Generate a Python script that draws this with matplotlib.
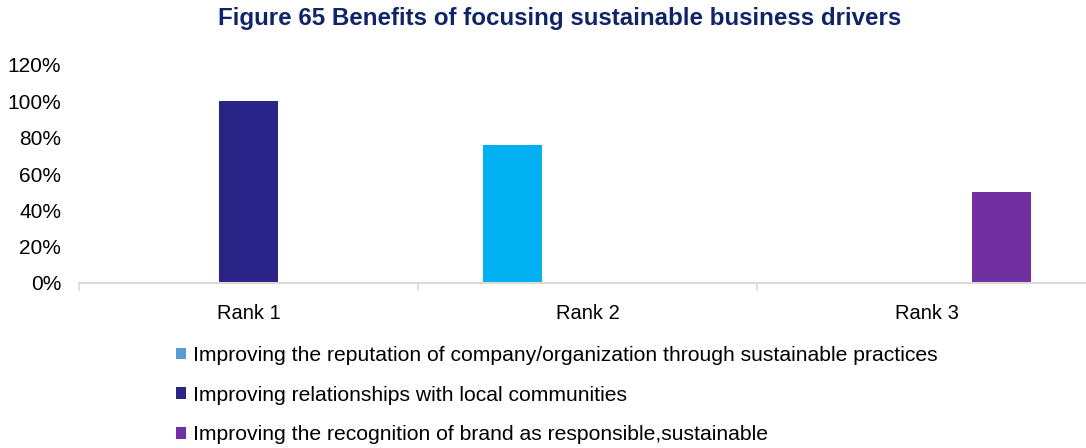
import matplotlib.pyplot as plt
from matplotlib.patches import Patch
import numpy as np

plt.rcParams['font.family'] = ['Liberation Sans', 'DejaVu Sans']

# Data
ranks = ['Rank 1', 'Rank 2', 'Rank 3']
series_names = [
    'Improving the reputation of company/organization through sustainable practices',
    'Improving relationships with local communities',
    'Improving the recognition of brand as responsible,sustainable',
]
reputation = [0, 76, 0]
relationships = [100, 0, 0]
recognition = [0, 0, 50]

bar_colors = ['#00B0F0', '#2A2489', '#7030A0']
legend_colors = ['#5B9BD5', '#2A2489', '#7030A0']

fig = plt.figure(figsize=(10.86, 4.48), dpi=100)
ax = fig.add_axes([79.3 / 1086, 165 / 448, 1017 / 1086, 218 / 448])

x = np.arange(len(ranks))
offset = 0.221
width = 0.174
for i, vals in enumerate([reputation, relationships, recognition]):
    ax.bar(x + (i - 1) * offset, vals, width=width, color=bar_colors[i], zorder=2)

ax.set_xlim(-0.5, 2.5)
ax.set_ylim(0, 120)
ax.set_yticks(range(0, 121, 20))
ax.set_yticklabels([f'{v}%' for v in range(0, 121, 20)])
ax.tick_params(axis='y', length=0, pad=13, labelsize=15)

# category labels between boundary tick marks
ax.set_xticks([-0.5, 0.5, 1.5, 2.5])
ax.set_xticklabels([])
ax.set_xticks(x, minor=True)
ax.set_xticklabels(ranks, minor=True)
ax.tick_params(axis='x', which='major', direction='out', length=6, width=1.2, color='#D9D9D9')
ax.tick_params(axis='x', which='minor', length=0, pad=15, labelsize=14.5)

for side in ['top', 'right', 'left']:
    ax.spines[side].set_visible(False)
ax.spines['bottom'].set_color('#D9D9D9')
ax.spines['bottom'].set_linewidth(1.5)

fig.text(560 / 1086, 1 - 25 / 448, 'Figure 65 Benefits of focusing sustainable business drivers',
         ha='center', va='baseline', fontsize=17.4, fontweight='bold', color='#10246A')

handles = [Patch(facecolor=c, edgecolor='none') for c in legend_colors]
fig.legend(handles, series_names, loc='upper left', bbox_to_anchor=(176 / 1086, 1 - 346 / 448),
           frameon=False, fontsize=15.2, handlelength=0.48, handleheight=0.48,
           handletextpad=0.34, labelspacing=0.98, borderpad=0, borderaxespad=0)

fig.savefig('out.png', dpi=100)
